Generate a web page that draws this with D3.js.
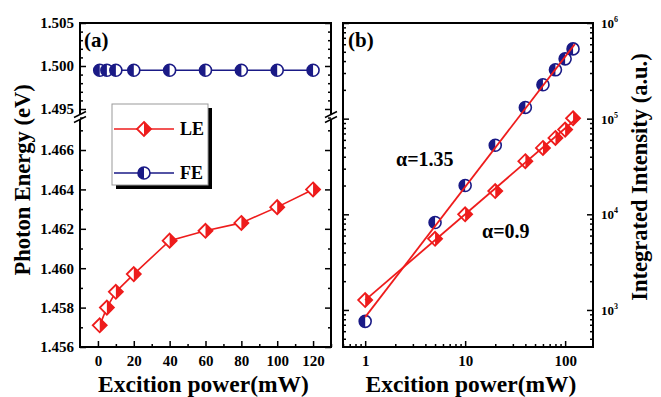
<!DOCTYPE html>
<html>
<head>
<meta charset="utf-8">
<script src="https://cdn.jsdelivr.net/npm/d3@7"></script>
<style>
  body { margin: 0; background: #fff; }
  svg { display: block; font-family: "Liberation Serif", "Times New Roman", serif; font-weight: bold; }
</style>
</head>
<body>
<svg id="chart" width="661" height="397"></svg>
<script>
// panel (a): peak energy vs power
const powerA = [1, 5, 10, 20, 40, 60, 80, 100, 120];
const leEnergy = [1.4571, 1.4580, 1.4588, 1.4597, 1.4614, 1.4619, 1.4623, 1.4631, 1.4640];
const feEnergy = [1.4995, 1.4995, 1.4995, 1.4995, 1.4995, 1.4995, 1.4995, 1.4995, 1.4995];

// panel (b): integrated intensity vs power (log-log)
const powerB = [1, 5, 10, 20, 40, 60, 80, 100, 120];
const feIntensity = [760, 8200, 20000, 52700, 131000, 226000, 324000, 422000, 536000];
const leIntensity = [1270, 5550, 10000, 17500, 35900, 49400, 62800, 76800, 101000];

const xTicksA = [0, 20, 40, 60, 80, 100, 120];
const yTicksUp = [1.495, 1.500, 1.505];
const yTicksLo = [1.456, 1.458, 1.460, 1.462, 1.464, 1.466];
const xTicksB = [1, 10, 100];
const yTicksB = [1e3, 1e4, 1e5, 1e6];

const RED = '#ee1c1c', NAVY = '#1a1a86';

const svg = d3.select('#chart');
const plotTop = 23, plotBot = 347, breakY = 117;

// scales
const xA = d3.scaleLinear().domain([-10, 130]).range([80, 331]);
const yUp = d3.scaleLinear().domain([1.4943, 1.505]).range([115, plotTop]);
const yLo = d3.scaleLinear().domain([1.456, 1.4676]).range([plotBot, 118.5]);
const yA = v => v > 1.48 ? yUp(v) : yLo(v);

const xB = d3.scaleLog().domain([0.6, 190]).range([343, 593]);
const yB = d3.scaleLog().domain([410, 1e6]).range([plotBot, plotTop]);

function styleAxis(g) {
  g.select('.domain').remove();
  g.selectAll('.tick line').attr('stroke', '#000').attr('stroke-width', 1.5);
  g.selectAll('.tick text').attr('fill', '#000').attr('font-size', '15px')
    .attr('font-family', '"Liberation Serif", "Times New Roman", serif').attr('font-weight', 'bold');
}

// ---------- panel (a) ----------
const a = svg.append('g');
const [ax0, ax1] = xA.range();
const loMinor = [1.457, 1.459, 1.461, 1.463, 1.465, 1.467];
const upMinor = [1.494, 1.496, 1.497, 1.498, 1.499, 1.501, 1.502, 1.503, 1.504];

[[yLo, yTicksLo, loMinor], [yUp, yTicksUp, upMinor]].forEach(([ys, major, minor]) => {
  a.append('g').attr('transform', `translate(${ax0},0)`)
    .call(d3.axisLeft(ys).tickValues(major).tickSize(-6).tickPadding(6).tickFormat(d3.format('.3f')))
    .call(styleAxis);
  a.append('g').attr('transform', `translate(${ax0},0)`)
    .call(d3.axisLeft(ys).tickValues(minor).tickSize(-3).tickFormat(''))
    .call(styleAxis);
  a.append('g').attr('transform', `translate(${ax1},0)`)
    .call(d3.axisRight(ys).tickValues(major).tickSize(-6).tickFormat(''))
    .call(styleAxis);
  a.append('g').attr('transform', `translate(${ax1},0)`)
    .call(d3.axisRight(ys).tickValues(minor).tickSize(-3).tickFormat(''))
    .call(styleAxis);
});

// x ticks
a.append('g').attr('transform', `translate(0,${plotBot})`)
  .call(d3.axisBottom(xA).tickValues(xTicksA).tickSize(-6).tickPadding(8))
  .call(styleAxis);
a.append('g').attr('transform', `translate(0,${plotBot})`)
  .call(d3.axisBottom(xA).tickValues([10, 30, 50, 70, 90, 110, 130]).tickSize(-3).tickFormat(''))
  .call(styleAxis);

// frame with broken y axis
a.append('path').attr('fill', 'none').attr('stroke', '#000').attr('stroke-width', 2)
  .attr('d', `M${ax0},${breakY - 3}V${plotTop}H${ax1}V${breakY - 3}M${ax0},${breakY + 3}V${plotBot}H${ax1}V${breakY + 3}`);
[ax0, ax1].forEach(x => {
  [-2.5, 2.5].forEach(o => {
    a.append('line').attr('x1', x - 6).attr('y1', breakY + o + 3).attr('x2', x + 6).attr('y2', breakY + o - 3)
      .attr('stroke', '#000').attr('stroke-width', 1.5);
  });
});

function diamond(g, x, y, r = 7) {
  g.append('path').attr('d', `M${x},${y - r}L${x + r},${y}L${x},${y + r}L${x - r},${y}Z`)
    .attr('fill', '#fff').attr('stroke', RED).attr('stroke-width', 1.8);
  g.append('path').attr('d', `M${x},${y - r}L${x + r},${y}L${x},${y + r}Z`).attr('fill', RED);
}
function halfCircle(g, x, y, r = 6) {
  g.append('circle').attr('cx', x).attr('cy', y).attr('r', r)
    .attr('fill', '#fff').attr('stroke', NAVY).attr('stroke-width', 1.6);
  g.append('path').attr('d', `M${x},${y - r}A${r},${r} 0 0 0 ${x},${y + r}Z`).attr('fill', NAVY);
}

// LE
const lineA = d3.line().x((d, i) => xA(powerA[i])).y(d => yA(d));
a.append('path').datum(leEnergy).attr('d', lineA).attr('fill', 'none').attr('stroke', RED).attr('stroke-width', 1.6);
leEnergy.forEach((v, i) => diamond(a, xA(powerA[i]), yA(v)));
// FE
a.append('path').datum(feEnergy).attr('d', lineA).attr('fill', 'none').attr('stroke', NAVY).attr('stroke-width', 1.6);
feEnergy.forEach((v, i) => halfCircle(a, xA(powerA[i]), yA(v)));

// legend
const lg = a.append('g');
lg.append('rect').attr('x', 116).attr('y', 108).attr('width', 96).attr('height', 81).attr('fill', '#000');
lg.append('rect').attr('x', 112).attr('y', 104).attr('width', 96).attr('height', 81)
  .attr('fill', '#fff').attr('stroke', '#999').attr('stroke-width', 1);
[{ name: 'LE', c: RED, y: 129, m: diamond }, { name: 'FE', c: NAVY, y: 173, m: halfCircle }].forEach(e => {
  lg.append('line').attr('x1', 114).attr('x2', 174).attr('y1', e.y).attr('y2', e.y).attr('stroke', e.c).attr('stroke-width', 1.6);
  e.m(lg, 144, e.y);
  lg.append('text').attr('x', 180).attr('y', e.y + 6).attr('font-size', '18px').text(e.name);
});

a.append('text').attr('x', 84).attr('y', 47).attr('font-size', '21px').text('(a)');
a.append('text').attr('x', (ax0 + ax1) / 2 - 2).attr('y', 392).attr('text-anchor', 'middle')
  .attr('font-size', '23.5px').text('Excition power(mW)');
a.append('text').attr('transform', 'translate(30,180) rotate(-90)').attr('text-anchor', 'middle')
  .attr('font-size', '22.5px').text('Photon Energy (eV)');

// ---------- panel (b) ----------
const b = svg.append('g');
const [bx0, bx1] = xB.range();
const yMinorB = yB.ticks().filter(v => !yTicksB.includes(v));
const xMinorB = xB.ticks().filter(v => !xTicksB.includes(v));

[[d3.axisLeft, bx0], [d3.axisRight, bx1]].forEach(([ax, x]) => {
  b.append('g').attr('transform', `translate(${x},0)`)
    .call(ax(yB).tickValues(yTicksB).tickSize(-6).tickFormat('')).call(styleAxis);
  b.append('g').attr('transform', `translate(${x},0)`)
    .call(ax(yB).tickValues(yMinorB).tickSize(-3).tickFormat('')).call(styleAxis);
});
b.append('g').attr('transform', `translate(0,${plotBot})`)
  .call(d3.axisBottom(xB).tickValues(xTicksB).tickSize(-6).tickPadding(8).tickFormat(d3.format('d')))
  .call(styleAxis);
b.append('g').attr('transform', `translate(0,${plotBot})`)
  .call(d3.axisBottom(xB).tickValues(xMinorB).tickSize(-3).tickFormat(''))
  .call(styleAxis);

b.append('rect').attr('x', bx0).attr('y', plotTop).attr('width', bx1 - bx0).attr('height', plotBot - plotTop)
  .attr('fill', 'none').attr('stroke', '#000').attr('stroke-width', 2);

// right-side decade labels
yTicksB.forEach(v => {
  const t = b.append('text').attr('x', bx1 + 8).attr('y', yB(v) + 5).attr('font-size', '13px');
  t.append('tspan').text('10');
  t.append('tspan').attr('dy', -6).attr('font-size', '8px').text(Math.round(Math.log10(v)));
});

// markers
feIntensity.forEach((v, i) => halfCircle(b, xB(powerB[i]), yB(v)));
leIntensity.forEach((v, i) => diamond(b, xB(powerB[i]), yB(v)));

// power-law fits in log-log space
function fit(xs, ys) {
  const lx = xs.map(Math.log10), ly = ys.map(Math.log10);
  const mx = d3.mean(lx), my = d3.mean(ly);
  const k = d3.sum(lx, (d, i) => (d - mx) * (ly[i] - my)) / d3.sum(lx, d => (d - mx) ** 2);
  return x => Math.pow(10, my + k * (Math.log10(x) - mx));
}
[fit(powerB, feIntensity), fit(powerB, leIntensity)].forEach(f => {
  b.append('path').datum([1, 125])
    .attr('d', d3.line().x(d => xB(d)).y(d => yB(f(d))))
    .attr('fill', 'none').attr('stroke', RED).attr('stroke-width', 1.8);
});

b.append('text').attr('x', 396).attr('y', 166).attr('font-size', '20px').text('α=1.35');
b.append('text').attr('x', 482).attr('y', 238).attr('font-size', '20px').text('α=0.9');
b.append('text').attr('x', 348).attr('y', 47).attr('font-size', '21px').text('(b)');
b.append('text').attr('x', (bx0 + bx1) / 2 + 3).attr('y', 392).attr('text-anchor', 'middle')
  .attr('font-size', '23.5px').text('Excition power(mW)');
b.append('text').attr('transform', 'translate(647,177) rotate(-90)').attr('text-anchor', 'middle')
  .attr('font-size', '22.5px').text('Integrated Intensity (a.u.)');
</script>
</body>
</html>
